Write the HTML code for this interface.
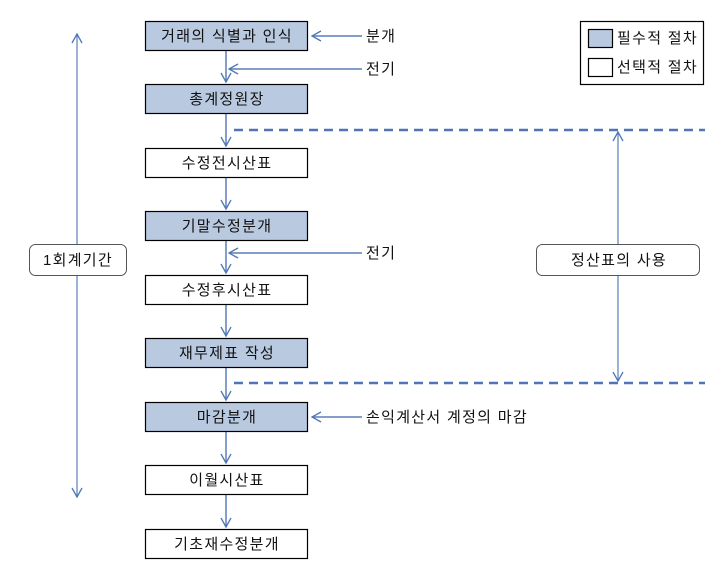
<!DOCTYPE html>
<html><head><meta charset="utf-8"><style>
html,body{margin:0;padding:0;background:#fff;}
svg{display:block;}
text{font-family:"Liberation Sans","Noto Sans CJK KR","NanumGothic",sans-serif;font-size:15px;letter-spacing:1.3px;fill:#111;}
</style></head><body>
<svg width="726" height="567" viewBox="0 0 726 567" xmlns="http://www.w3.org/2000/svg">
<defs>
<marker id="a" markerWidth="12" markerHeight="12" refX="10" refY="6" orient="auto" markerUnits="userSpaceOnUse">
<path d="M1,1 L10,6 L1,11" fill="none" stroke="#4f77b5" stroke-width="1.3"/>
</marker>
</defs>
<g stroke="#5a7fb8" stroke-width="1.5" fill="none">
<line x1="226" y1="50" x2="226" y2="82" marker-end="url(#a)"/>
<line x1="226" y1="114" x2="226" y2="146" marker-end="url(#a)"/>
<line x1="226" y1="177" x2="226" y2="209" marker-end="url(#a)"/>
<line x1="226" y1="241" x2="226" y2="273" marker-end="url(#a)"/>
<line x1="226" y1="304" x2="226" y2="336" marker-end="url(#a)"/>
<line x1="226" y1="368" x2="226" y2="400" marker-end="url(#a)"/>
<line x1="226" y1="431" x2="226" y2="463" marker-end="url(#a)"/>
<line x1="226" y1="495" x2="226" y2="527" marker-end="url(#a)"/>
<line x1="362" y1="36" x2="312" y2="36" marker-end="url(#a)"/>
<line x1="362" y1="69" x2="229" y2="69" marker-end="url(#a)"/>
<line x1="362" y1="253" x2="229" y2="253" marker-end="url(#a)"/>
<line x1="362" y1="417" x2="312" y2="417" marker-end="url(#a)"/>
<line x1="77" y1="244" x2="77" y2="34" stroke-width="1.2" marker-end="url(#a)"/>
<line x1="77" y1="276" x2="77" y2="497" stroke-width="1.2" marker-end="url(#a)"/>
<line x1="618" y1="244" x2="618" y2="132" stroke-width="1.2" marker-end="url(#a)"/>
<line x1="618" y1="276" x2="618" y2="381" stroke-width="1.2" marker-end="url(#a)"/>
</g>
<g stroke="#4f74b8" stroke-width="2.5" stroke-dasharray="9,6">
<line x1="234" y1="130" x2="705" y2="130"/>
<line x1="234" y1="383" x2="705" y2="383"/>
</g>
<g stroke="#000" stroke-width="1.2">
<rect x="145.5" y="21.5" width="162" height="29" fill="#b9c9e0"/>
<rect x="145.5" y="84.5" width="162" height="29" fill="#b9c9e0"/>
<rect x="145.5" y="148.5" width="162" height="29" fill="#fff"/>
<rect x="145.5" y="211.5" width="162" height="29" fill="#b9c9e0"/>
<rect x="145.5" y="275.5" width="162" height="29" fill="#fff"/>
<rect x="145.5" y="338.5" width="162" height="29" fill="#b9c9e0"/>
<rect x="145.5" y="402.5" width="162" height="29" fill="#b9c9e0"/>
<rect x="145.5" y="465.5" width="162" height="29" fill="#fff"/>
<rect x="145.5" y="529.5" width="162" height="29" fill="#fff"/>
<rect x="580.5" y="21.5" width="123" height="63" fill="#fff"/>
<rect x="588.5" y="29.5" width="24" height="18" fill="#b9c9e0"/>
<rect x="588.5" y="58.5" width="24" height="18" fill="#fff"/>
</g>
<g stroke="#555" stroke-width="1" fill="#fff">
<rect x="29.5" y="244.5" width="97" height="31" rx="6"/>
<rect x="536.5" y="244.5" width="163" height="31" rx="6"/>
</g>
<g text-anchor="middle">
<text x="227" y="41">거래의 식별과 인식</text>
<text x="227" y="104">총계정원장</text>
<text x="227" y="168">수정전시산표</text>
<text x="227" y="231">기말수정분개</text>
<text x="227" y="295">수정후시산표</text>
<text x="227" y="358">재무제표 작성</text>
<text x="227" y="422">마감분개</text>
<text x="227" y="485">이월시산표</text>
<text x="227" y="549">기초재수정분개</text>
<text x="78" y="265">1회계기간</text>
<text x="619" y="265">정산표의 사용</text>
</g>
<text x="366" y="41">분개</text>
<text x="366" y="74">전기</text>
<text x="366" y="258">전기</text>
<text x="366" y="422">손익계산서 계정의 마감</text>
<text x="617" y="43">필수적 절차</text>
<text x="617" y="72">선택적 절차</text>
</svg>
</body></html>
